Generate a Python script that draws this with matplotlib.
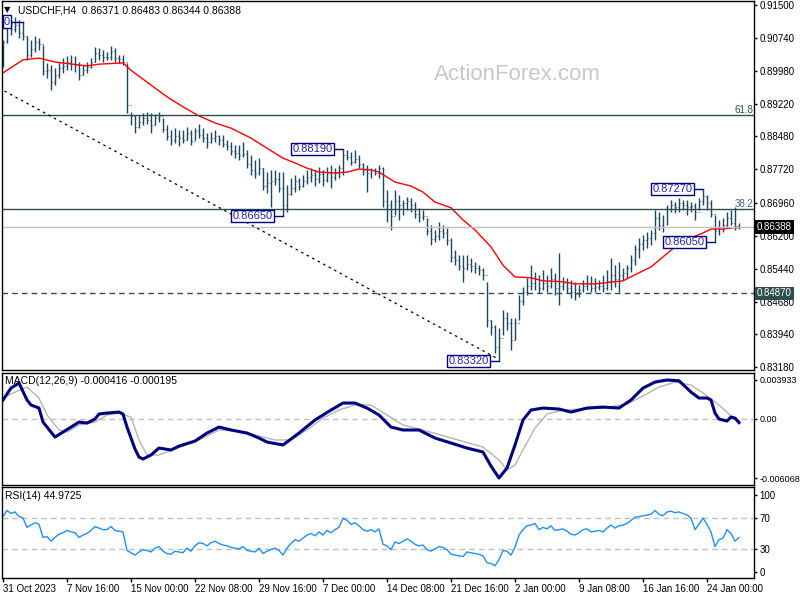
import matplotlib
matplotlib.use("Agg")
import matplotlib.pyplot as plt
import numpy as np

plt.rcParams['font.family'] = ['Liberation Sans', 'DejaVu Sans']

# USDCHF H4 bars, one entry per 8 hours (two H4 bars)
highs = [
    0.9070, 0.9121, 0.9116, 0.9123, 0.9116, 0.9112, 0.9078, 0.9070, 0.9079, 0.9075,
    0.9058, 0.9017, 0.9012, 0.9006, 0.9019, 0.9029, 0.9033, 0.9035, 0.9033, 0.9019,
    0.9012, 0.9019, 0.9029, 0.9054, 0.9052, 0.9047, 0.9042, 0.9056, 0.9052, 0.9036,
    0.9036, 0.9017, 0.8904, 0.8897, 0.8897, 0.8902, 0.8904, 0.8902, 0.8900, 0.8904,
    0.8891, 0.8875, 0.8863, 0.8868, 0.8863, 0.8863, 0.8870, 0.8863, 0.8868, 0.8877,
    0.8868, 0.8856, 0.8858, 0.8863, 0.8852, 0.8852, 0.8840, 0.8836, 0.8829, 0.8829,
    0.8836, 0.8817, 0.8806, 0.8794, 0.8799, 0.8776, 0.8767, 0.8771, 0.8771, 0.8767,
    0.8767, 0.8737, 0.8753, 0.8760, 0.8753, 0.8760, 0.8771, 0.8776, 0.8771, 0.8778,
    0.8771, 0.8778, 0.8783, 0.8776, 0.8783, 0.8819, 0.8817, 0.8812, 0.8817, 0.8806,
    0.8787, 0.8783, 0.8776, 0.8776, 0.8783, 0.8778, 0.8725, 0.8702, 0.8725, 0.8714,
    0.8702, 0.8709, 0.8707, 0.8697, 0.8684, 0.8679, 0.8661, 0.8645, 0.8633, 0.8652,
    0.8645, 0.8638, 0.8615, 0.8587, 0.8576, 0.8576, 0.8576, 0.8569, 0.8560, 0.8553,
    0.8546, 0.8514, 0.8426, 0.8415, 0.8408, 0.8449, 0.8444, 0.8431, 0.8431, 0.8483,
    0.8502, 0.8523, 0.8553, 0.8537, 0.8530, 0.8541, 0.8530, 0.8546, 0.8534, 0.8580,
    0.8525, 0.8523, 0.8518, 0.8514, 0.8507, 0.8518, 0.8530, 0.8528, 0.8523, 0.8518,
    0.8530, 0.8541, 0.8569, 0.8553, 0.8560, 0.8546, 0.8553, 0.8576, 0.8599, 0.8615,
    0.8622, 0.8629, 0.8633, 0.8679, 0.8675, 0.8668, 0.8691, 0.8702, 0.8697, 0.8707,
    0.8702, 0.8702, 0.8697, 0.8695, 0.8707, 0.8727, 0.8714, 0.8702, 0.8668, 0.8656,
    0.8661, 0.8675, 0.8679, 0.8686, 0.86483,
]
lows = [
    0.9008, 0.9063, 0.9082, 0.9088, 0.9075, 0.9070, 0.9024, 0.9030, 0.9042, 0.9047,
    0.8990, 0.8983, 0.8955, 0.8967, 0.8983, 0.8994, 0.9001, 0.9001, 0.8996, 0.8978,
    0.8990, 0.8994, 0.9006, 0.9019, 0.9024, 0.9019, 0.9024, 0.9024, 0.9019, 0.9017,
    0.9013, 0.8902, 0.8875, 0.8856, 0.8868, 0.8875, 0.8877, 0.8856, 0.8875, 0.8881,
    0.8858, 0.8840, 0.8829, 0.8833, 0.8826, 0.8833, 0.8840, 0.8829, 0.8840, 0.8845,
    0.8835, 0.8822, 0.8833, 0.8835, 0.8829, 0.8824, 0.8817, 0.8806, 0.8799, 0.8794,
    0.8801, 0.8776, 0.8760, 0.8753, 0.8760, 0.8725, 0.8718, 0.8686, 0.8737, 0.8720,
    0.8665, 0.8675, 0.8714, 0.8720, 0.8725, 0.8732, 0.8739, 0.8744, 0.8734, 0.8741,
    0.8734, 0.8744, 0.8730, 0.8748, 0.8753, 0.8760, 0.8794, 0.8783, 0.8787, 0.8776,
    0.8760, 0.8720, 0.8753, 0.8760, 0.8753, 0.8686, 0.8652, 0.8633, 0.8668, 0.8656,
    0.8668, 0.8679, 0.8675, 0.8661, 0.8652, 0.8656, 0.8622, 0.8599, 0.8606, 0.8610,
    0.8615, 0.8599, 0.8560, 0.8553, 0.8541, 0.8514, 0.8541, 0.8537, 0.8534, 0.8530,
    0.8518, 0.8410, 0.8392, 0.8350, 0.8332, 0.8392, 0.8403, 0.8357, 0.8380, 0.8426,
    0.8460, 0.8483, 0.8495, 0.8495, 0.8488, 0.8495, 0.8491, 0.8500, 0.8483, 0.8460,
    0.8495, 0.8488, 0.8477, 0.8472, 0.8479, 0.8491, 0.8495, 0.8491, 0.8491, 0.8495,
    0.8491, 0.8495, 0.8495, 0.8502, 0.8491, 0.8518, 0.8523, 0.8537, 0.8553, 0.8569,
    0.8587, 0.8592, 0.8599, 0.8610, 0.8633, 0.8629, 0.8645, 0.8675, 0.8672, 0.8675,
    0.8679, 0.8668, 0.8675, 0.8656, 0.8679, 0.8691, 0.8679, 0.8663, 0.8605, 0.8622,
    0.8629, 0.8638, 0.8645, 0.8633, 0.86344,
]
closes = [
    0.9065, 0.9110, 0.9095, 0.9105, 0.9085, 0.9078, 0.9035, 0.9050, 0.9065, 0.9060,
    0.8998, 0.9000, 0.8972, 0.8990, 0.9005, 0.9010, 0.9020, 0.9015, 0.9012, 0.8990,
    0.9000, 0.9008, 0.9020, 0.9040, 0.9035, 0.9030, 0.9030, 0.9045, 0.9028, 0.9025,
    0.9020, 0.8920, 0.8895, 0.8870, 0.8880, 0.8890, 0.8885, 0.8875, 0.8890, 0.8895,
    0.8865, 0.8850, 0.8840, 0.8850, 0.8845, 0.8840, 0.8855, 0.8838, 0.8860, 0.8852,
    0.8845, 0.8835, 0.8845, 0.8850, 0.8840, 0.8830, 0.8825, 0.8815, 0.8810, 0.8805,
    0.8808, 0.8785, 0.8770, 0.8765, 0.8775, 0.8735, 0.8740, 0.8745, 0.8750, 0.8730,
    0.8690, 0.8715, 0.8730, 0.8745, 0.8735, 0.8745, 0.8755, 0.8760, 0.8750, 0.8762,
    0.8748, 0.8765, 0.8755, 0.8765, 0.8775, 0.8805, 0.8800, 0.8790, 0.8795, 0.8785,
    0.8770, 0.8765, 0.8770, 0.8765, 0.8775, 0.8700, 0.8690, 0.8665, 0.8700, 0.8690,
    0.8695, 0.8700, 0.8690, 0.8670, 0.8662, 0.8665, 0.8630, 0.8612, 0.8620, 0.8630,
    0.8625, 0.8610, 0.8570, 0.8565, 0.8550, 0.8545, 0.8555, 0.8550, 0.8545, 0.8540,
    0.8530, 0.8425, 0.8410, 0.8365, 0.8385, 0.8430, 0.8420, 0.8380, 0.8420, 0.8470,
    0.8490, 0.8505, 0.8510, 0.8520, 0.8500, 0.8510, 0.8505, 0.8520, 0.8500, 0.8505,
    0.8510, 0.8500, 0.8490, 0.8485, 0.8495, 0.8505, 0.8510, 0.8500, 0.8502, 0.8505,
    0.8500, 0.8515, 0.8530, 0.8520, 0.8530, 0.8535, 0.8545, 0.8565, 0.8590, 0.8600,
    0.8610, 0.8615, 0.8625, 0.8660, 0.8645, 0.8640, 0.8680, 0.8690, 0.8685, 0.8695,
    0.8690, 0.8685, 0.8688, 0.8675, 0.8700, 0.8710, 0.8695, 0.8670, 0.8630, 0.8640,
    0.8645, 0.8660, 0.8650, 0.8637, 0.86388,
]
first_open = 0.9015

# moving average (red)
ma_j = [0, 5, 9, 13, 21, 24, 30, 32, 37, 41, 45, 49, 53, 57, 62, 66, 70, 73, 76, 79,
        83, 86, 89, 92, 94, 98, 102, 105, 108, 112, 115, 118, 122, 125, 128, 132, 135,
        140, 143, 148, 150, 155, 158, 162, 165, 168, 172, 175, 177, 180, 184]
ma_vals = [0.8994, 0.9024, 0.9028, 0.9019, 0.9010, 0.9014, 0.9017, 0.9000, 0.8966, 0.8939,
           0.8916, 0.8895, 0.8879, 0.8867, 0.8844, 0.8821, 0.8798, 0.8787, 0.8775, 0.8766,
           0.8764, 0.8766, 0.8773, 0.8771, 0.8766, 0.8743, 0.8734, 0.8720, 0.8697, 0.8684,
           0.8656, 0.8633, 0.8594, 0.8552, 0.8525, 0.8523, 0.8516, 0.8514, 0.8509, 0.8509,
           0.8511, 0.8516, 0.8530, 0.8548, 0.8571, 0.8594, 0.8615, 0.8626, 0.8635, 0.8635,
           0.8640]

# MACD(12,26,9)
macd_j = [0, 2, 4, 6, 7, 9, 10, 12, 13, 15, 17, 19, 21, 23, 24, 26, 29, 30, 31, 33,
          34, 35, 37, 39, 42, 44, 48, 51, 54, 57, 61, 64, 66, 70, 74, 78, 82, 85, 88, 91,
          94, 97, 100, 104, 108, 112, 116, 120, 122, 124, 126, 128, 130, 132, 135, 139,
          142, 146, 150, 154, 157, 160, 163, 166, 169, 172, 174, 176, 177, 178, 179, 181,
          182, 183, 184]
macd_vals = [0.00189, 0.00311, 0.00362, 0.00189, 0.00138, 0.00107, -0.00036, -0.00138,
             -0.00189, -0.00138, -0.00087, -0.00036, -0.00046, -0.00005, 0.00046, 0.00056,
             0.00066, 0.00046, -0.00087, -0.00311, -0.00393, -0.00413, -0.00372, -0.00301,
             -0.00321, -0.00281, -0.00230, -0.00148, -0.00087, -0.00117, -0.00148, -0.00199,
             -0.00240, -0.00270, -0.00148, -0.00015, 0.00087, 0.00158, 0.00158, 0.00107,
             0.00036, -0.00087, -0.00117, -0.00117, -0.00199, -0.00250, -0.00301, -0.00342,
             -0.00485, -0.006068, -0.00505, -0.00270, -0.00015, 0.00087, 0.00107, 0.00097,
             0.00066, 0.00107, 0.00117, 0.00107, 0.00189, 0.00311, 0.00372, 0.003933,
             0.00385, 0.00270, 0.00209, 0.00209, 0.00189, 0.00056, -0.00005, -0.00026,
             0.00015, 0.00005, -0.000416]
sig_j = [0, 3, 6, 9, 11, 14, 16, 19, 23, 26, 29, 32, 34, 36, 39, 43, 49, 54, 59, 64,
         68, 72, 76, 80, 84, 88, 92, 96, 100, 105, 112, 120, 124, 126, 128, 130, 133,
         136, 140, 150, 156, 160, 164, 168, 172, 175, 179, 182, 184]
sig_vals = [0.00209, 0.00270, 0.00321, 0.00209, 0.00036, -0.00117, -0.00138, -0.00066,
            -0.00036, 0.00036, 0.00056, 0.00015, -0.00219, -0.00372, -0.00372, -0.00311,
            -0.00219, -0.00117, -0.00128, -0.00179, -0.00219, -0.00219, -0.00117, 0.00005,
            0.00087, 0.00138, 0.00138, 0.00036, -0.00066, -0.00117, -0.00199, -0.00291,
            -0.00423, -0.00525, -0.00474, -0.00321, -0.00097, 0.00046, 0.00087, 0.00107,
            0.00148, 0.00230, 0.00321, 0.00372, 0.00342, 0.00260, 0.00138, 0.00026,
            -0.000195]

# RSI(14)
rsi = [72, 80, 76, 78, 72, 70, 58, 61, 64, 62,
       45, 46, 40, 45, 49, 51, 54, 52, 51, 45,
       48, 50, 54, 59, 57, 55, 55, 59, 54, 53,
       52, 28, 25, 22, 26, 29, 28, 26, 31, 33,
       27, 24, 23, 27, 26, 25, 31, 27, 34, 38,
       37, 34, 38, 40, 37, 35, 34, 32, 31, 30,
       33, 28, 27, 26, 31, 24, 27, 29, 31, 28,
       22, 31, 37, 42, 40, 44, 48, 50, 47, 52,
       48, 54, 51, 55, 58, 70, 67, 62, 64, 60,
       55, 53, 55, 52, 56, 36, 34, 29, 39, 37,
       40, 43, 40, 36, 34, 35, 29, 27, 30, 33,
       32, 29, 23, 22, 21, 20, 26, 25, 24, 23,
       21, 12, 11, 8, 16, 28, 27, 22, 32, 48,
       55, 60, 61, 63, 55, 58, 56, 60, 54, 55,
       56, 53, 49, 48, 51, 55, 56, 52, 53, 54,
       52, 57, 61, 57, 60, 61, 63, 67, 71, 72,
       73, 74, 75, 80, 75, 73, 78, 79, 77, 78,
       76, 74, 70, 55, 62, 70, 62, 52, 33, 42,
       44, 55, 50, 40, 44.9725]

price_ticks = [0.915, 0.9074, 0.8998, 0.8922, 0.8848, 0.8772, 0.8696, 0.862,
               0.8544, 0.8468, 0.8394, 0.8318]
date_ticks = [0, 16, 32, 48, 64, 80, 96, 112, 128, 144, 160, 176]
date_labels = ['31 Oct 2023', '7 Nov 16:00', '15 Nov 00:00', '22 Nov 08:00',
               '29 Nov 16:00', '7 Dec 00:00', '14 Dec 08:00', '21 Dec 16:00',
               '2 Jan 00:00', '9 Jan 08:00', '16 Jan 16:00', '24 Jan 00:00']

fib_618 = 0.8897
fib_382 = 0.8681
support = 0.8487
last_price = 0.86388
trend_j = [-1, 123.5]
trend_p = [0.8959, 0.8338]
swing_labels = [(85, 0.8819, '0.88190'), (70, 0.8665, '0.86650'),
                (124, 0.8332, '0.83320'), (175, 0.8727, '0.87270'),
                (178, 0.8605, '0.86050')]

bar_col = '#1b4763'
slate = '#2f4f4f'
lab_col = '#2424b0'

fig = plt.figure(figsize=(8, 6), dpi=100)
ax = fig.add_axes([0.0025, 1 - 370 / 600, 0.94, 369 / 600])
ax2 = fig.add_axes([0.0025, 1 - 485 / 600, 0.94, 112 / 600])
ax3 = fig.add_axes([0.0025, 1 - 578 / 600, 0.94, 91 / 600])

x = np.arange(len(closes))
opens = [first_open] + closes[:-1]

# main price panel
ax.vlines(x, lows, highs, color=bar_col, lw=1.0)
ax.hlines(opens, x - 0.3, x, color=bar_col, lw=0.8)
ax.hlines(closes, x, x + 0.3, color=bar_col, lw=0.8)
ax.plot(ma_j, ma_vals, color='red', lw=1.0)

ax.axhline(fib_618, color=slate, lw=1.0)
ax.axhline(fib_382, color=slate, lw=1.0)
ax.axhline(last_price, color='#c0c0c0', lw=1.0)
ax.axhline(support, color=slate, lw=1.0, ls=(0, (4, 3)))
ax.plot(trend_j, trend_p, color='black', lw=0.9, ls=(0, (2, 3)))
ax.text(187.5, fib_618, '61.8', ha='right', va='bottom', fontsize=7, color=slate)
ax.text(187.5, fib_382, '38.2', ha='right', va='bottom', fontsize=7, color='#4a6a86')

for j, p, s in swing_labels:
    ax.plot([j - 2.6, j], [p, p], color='#000080', lw=1.0)
    ax.text(j - 2.6, p, s, ha='right', va='center', fontsize=8, color=lab_col,
            bbox=dict(boxstyle='square,pad=0.12', fc='white', ec='#000080', lw=1.0))
ax.plot([1.8, 5], [highs[5], highs[5]], color='#000080', lw=1.0)
ax.text(1.0, highs[5], '0', ha='center', va='center', fontsize=8, color=lab_col,
        bbox=dict(boxstyle='square,pad=0.12', fc='white', ec='#000080', lw=1.0))

ax.text(0.686, 0.80, 'ActionForex.com', transform=ax.transAxes, ha='center',
        va='center', fontsize=16, color='#c8c8c8', zorder=0)
ax.text(0.002, 0.9756, '▼', transform=ax.transAxes, ha='left', va='center',
        fontsize=6, color='black', family='DejaVu Sans')
ax.text(0.0213, 0.9756, 'USDCHF,H4  0.86371 0.86483 0.86344 0.86388',
        transform=ax.transAxes, ha='left', va='center', fontsize=7.5)

ax.text(1.004, last_price, '0.86388', transform=ax.get_yaxis_transform(),
        ha='left', va='center', fontsize=7, color='white', zorder=10, clip_on=False,
        bbox=dict(boxstyle='square,pad=0.2', fc='black', ec='none'))
ax.text(1.004, support, '0.84870', transform=ax.get_yaxis_transform(),
        ha='left', va='center', fontsize=7, color='white', zorder=10, clip_on=False,
        bbox=dict(boxstyle='square,pad=0.2', fc=slate, ec='none'))

ax.set_ylim(0.83111, 0.91592)
ax.set_yticks(price_ticks)
ax.set_yticklabels(['%.5f' % v for v in price_ticks])

# MACD panel
ax2.axhline(0, color='#c0c0c0', lw=1.0, ls=(0, (4, 3)))
ax2.plot(sig_j, sig_vals, color='#b4b4b4', lw=1.0)
ax2.plot(macd_j, macd_vals, color='#000080', lw=2.2)
ax2.set_ylim(-0.006782, 0.004647)
ax2.set_yticks([0.003933, 0.0, -0.006068])
ax2.set_yticklabels(['0.003933', '0.00', '-0.006068'])
ax2.text(0.004, 0.929, 'MACD(12,26,9) -0.000416 -0.000195', transform=ax2.transAxes,
         ha='left', va='center', fontsize=7.5)

# RSI panel
ax3.axhline(70, color='#c0c0c0', lw=1.0, ls=(0, (4, 3)))
ax3.axhline(30, color='#c0c0c0', lw=1.0, ls=(0, (4, 3)))
ax3.plot(x, rsi, color='#1e90ff', lw=1.0)
ax3.set_ylim(-7.8, 110.4)
ax3.set_yticks([100, 70, 30, 0])
ax3.set_yticklabels(['100', '70', '30', '0'])
ax3.text(0.004, 0.901, 'RSI(14) 44.9725', transform=ax3.transAxes,
         ha='left', va='center', fontsize=7.5)
ax3.set_xticks(date_ticks)
ax3.set_xticklabels(date_labels, ha='left', fontsize=7)
ax3.tick_params(axis='x', direction='out', length=3, width=1, pad=1.5)

for a in (ax, ax2, ax3):
    a.set_xlim(-0.25, 187.75)
    a.yaxis.tick_right()
    a.tick_params(axis='y', direction='out', length=2.5, width=1, pad=1.5, labelsize=7)
    for sp in a.spines.values():
        sp.set_color('black')
        sp.set_linewidth(1.0)
for a in (ax, ax2):
    a.set_xticks([])
ax2.tick_params(axis='y', labelsize=6.5)

fig.savefig('out.png', dpi=100)
